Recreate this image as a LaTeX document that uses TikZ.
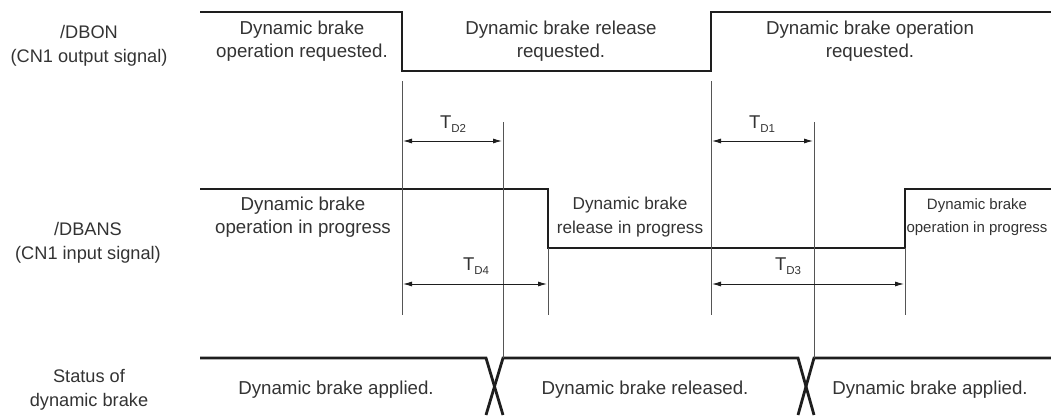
\documentclass[tikz,border=0pt]{standalone}
\usepackage{fontspec}
\setmainfont{Liberation Sans}
\usetikzlibrary{arrows.meta}
\definecolor{txt}{HTML}{333333}
\definecolor{sig}{HTML}{1E1E1E}
\definecolor{thin}{HTML}{555555}
\tikzset{
  lbl/.style={text=txt, align=center, font=\fontsize{18.7}{23.5}\selectfont, inner sep=0pt},
  mid/.style={text=txt, align=center, font=\fontsize{17.2}{23.5}\selectfont, inner sep=0pt},
  side/.style={text=txt, align=center, font=\fontsize{18.2}{24}\selectfont, inner sep=0pt},
  small/.style={text=txt, align=center, font=\fontsize{15}{23}\selectfont, inner sep=0pt},
  tlbl/.style={text=txt, font=\fontsize{18.5}{20}\selectfont, inner sep=0pt},
  signal/.style={draw=sig, line width=2.8pt, line join=miter},
  guide/.style={draw=thin, line width=0.9pt},
  dim/.style={draw=sig, line width=0.9pt, {Latex[length=9pt,width=5pt]}-{Latex[length=9pt,width=5pt]}, shorten <=1pt, shorten >=1pt}
}
\newcommand{\tdl}[1]{T\raisebox{-0.4ex}{\fontsize{11.5}{12}\selectfont #1}}
\begin{document}
\begin{tikzpicture}[x=1pt,y=-1pt]
\useasboundingbox (0,0) rectangle (1051,415);
% ---- key coordinates
\coordinate (a0) at (200,12);
\coordinate (a1) at (402,12);
\coordinate (a2) at (402,71);
\coordinate (a3) at (711,71);
\coordinate (a4) at (711,12);
\coordinate (a5) at (1051,12);
\coordinate (b0) at (200,189);
\coordinate (b1) at (548,189);
\coordinate (b2) at (548,248);
\coordinate (b3) at (905,248);
\coordinate (b4) at (905,189);
\coordinate (b5) at (1051,189);
% guide line ends
\coordinate (g1t) at (402,81);  \coordinate (g1b) at (402,315);
\coordinate (g2t) at (503,122); \coordinate (g2b) at (503,358);
\coordinate (g3b) at (548,315);
\coordinate (g4t) at (711,81);  \coordinate (g4b) at (711,315);
\coordinate (g5t) at (814,122); \coordinate (g5b) at (814,358);
\coordinate (g6b) at (905,315);
% arrows ends
\coordinate (d2l) at (402,141); \coordinate (d2r) at (503,141);
\coordinate (d1l) at (711,141); \coordinate (d1r) at (814,141);
\coordinate (d4l) at (402,284); \coordinate (d4r) at (548,284);
\coordinate (d3l) at (711,284); \coordinate (d3r) at (905,284);
% status
\coordinate (s0) at (200,358);
\coordinate (s1) at (486,358);
\coordinate (s1b) at (486,415);
\coordinate (s2b) at (503,415);
\coordinate (s3) at (798,358);
\coordinate (s3b) at (798,415);
\coordinate (s4b) at (814,415);
\coordinate (s5) at (1051,358);

% ---- signals
\draw[signal] (a0) -- (a1) -- (a2) -- (a3) -- (a4) -- (a5);
\draw[signal] (b0) -- (b1) -- (b2) -- (b3) -- (b4) -- (b5);
\draw[signal] (s0) -- (s1) -- (s2b);
\draw[signal] (s1b) -- (g2b) -- (s3) -- (s4b);
\draw[signal] (s3b) -- (g5b) -- (s5);

% ---- guides
\draw[guide] (g1t) -- (g1b);
\draw[guide] (g2t) -- (g2b);
\draw[guide] (b2) -- (g3b);
\draw[guide] (g4t) -- (g4b);
\draw[guide] (g5t) -- (g5b);
\draw[guide] (b3) -- (g6b);

% ---- dimension arrows
\draw[dim] (d2l) -- (d2r);
\draw[dim] (d1l) -- (d1r);
\draw[dim] (d4l) -- (d4r);
\draw[dim] (d3l) -- (d3r);
\node[tlbl] (t2) at (453,124) {\tdl{D2}};
\node[tlbl] (t1) at (762,124) {\tdl{D1}};
\node[tlbl] (t4) at (476,266) {\tdl{D4}};
\node[tlbl] (t3) at (788,266) {\tdl{D3}};

% ---- row labels
\node[side] (l1) at (89,46) {/DBON\\(CN1 output signal)};
\node[side] (l2) at (88,243) {/DBANS\\(CN1 input signal)};
\node[side] (l3) at (89,390) {Status of\\dynamic brake};

% ---- texts
\node[lbl] (r1a) at (302,41) {Dynamic brake\\operation requested.};
\node[lbl] (r1b) at (561,41) {Dynamic brake release\\requested.};
\node[lbl] (r1c) at (870,41) {Dynamic brake operation\\requested.};
\node[lbl] (r2a) at (303,217) {Dynamic brake\\operation in progress};
\node[mid] (r2b) at (630,217) {Dynamic brake\\release in progress};
\node[small] (r2c) at (977,217) {Dynamic brake\\operation in progress};
\node[lbl] (r3a) at (336,390) {Dynamic brake applied.};
\node[lbl] (r3b) at (645,390) {Dynamic brake released.};
\node[lbl] (r3c) at (930,390) {Dynamic brake applied.};
\end{tikzpicture}
\end{document}
